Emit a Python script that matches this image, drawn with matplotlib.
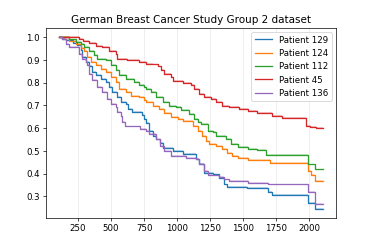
import matplotlib
matplotlib.use("Agg")
import matplotlib.pyplot as plt

# survival step curves: change times and value after each time
t_129 = [107, 130, 157, 208, 245, 270, 283, 308, 333, 358, 383, 421, 459, 484, 509, 547,
         572, 609, 627, 659, 735, 747, 765, 790, 815, 840, 866, 891, 966, 1041, 1141, 1166,
         1204, 1267, 1317, 1355, 1380, 1525, 1688, 1714, 1989, 2040, 2100]
s_129 = [1.0, 0.994, 0.987, 0.975, 0.965, 0.942, 0.913, 0.89, 0.872, 0.846, 0.832, 0.817,
         0.802, 0.78, 0.758, 0.736, 0.714, 0.706, 0.684, 0.669, 0.659, 0.64, 0.624, 0.587,
         0.566, 0.55, 0.536, 0.514, 0.5, 0.485, 0.463, 0.441, 0.404, 0.396, 0.382, 0.352,
         0.341, 0.335, 0.32, 0.306, 0.271, 0.246, 0.246]

t_124 = [107, 182, 233, 270, 295, 321, 346, 383, 421, 459, 496, 534, 559, 609, 647, 709,
         747, 765, 815, 865, 903, 953, 1003, 1041, 1116, 1154, 1191, 1216, 1242, 1292, 1342,
         1380, 1417, 1462, 1538, 1701, 1989, 2010, 2045, 2100]
s_124 = [1.0, 0.984, 0.972, 0.954, 0.94, 0.913, 0.89, 0.876, 0.861, 0.846, 0.824, 0.802,
         0.773, 0.758, 0.743, 0.736, 0.724, 0.714, 0.699, 0.684, 0.665, 0.65, 0.64, 0.63,
         0.611, 0.588, 0.566, 0.544, 0.532, 0.522, 0.507, 0.492, 0.478, 0.467, 0.458, 0.445,
         0.41, 0.395, 0.367, 0.367]

t_112 = [107, 182, 233, 270, 295, 333, 371, 396, 459, 496, 534, 559, 609, 672, 709, 747,
         765, 803, 840, 890, 940, 991, 1029, 1091, 1129, 1154, 1179, 1229, 1267, 1292, 1367,
         1405, 1462, 1538, 1601, 1670, 1989, 2040, 2100]
s_112 = [1.0, 0.99, 0.98, 0.97, 0.957, 0.94, 0.92, 0.905, 0.898, 0.876, 0.857, 0.832,
         0.817, 0.802, 0.788, 0.78, 0.773, 0.758, 0.736, 0.714, 0.699, 0.692, 0.68, 0.662,
         0.64, 0.625, 0.618, 0.588, 0.581, 0.566, 0.551, 0.532, 0.515, 0.507, 0.503, 0.482,
         0.44, 0.418, 0.418]

t_45 = [107, 258, 290, 333, 383, 434, 484, 534, 547, 622, 709, 760, 815, 852, 878, 903,
        953, 965, 1041, 1104, 1129, 1166, 1204, 1254, 1292, 1342, 1392, 1468, 1538, 1601,
        1714, 1789, 1977, 2002, 2052, 2100]
s_45 = [1.0, 0.993, 0.984, 0.975, 0.963, 0.957, 0.941, 0.927, 0.903, 0.898, 0.89, 0.883,
        0.88, 0.871, 0.854, 0.839, 0.824, 0.807, 0.798, 0.788, 0.773, 0.75, 0.736, 0.728,
        0.714, 0.699, 0.692, 0.684, 0.676, 0.665, 0.655, 0.646, 0.611, 0.603, 0.6, 0.6]

t_136 = [107, 130, 157, 182, 258, 283, 308, 321, 333, 358, 396, 434, 471, 496, 534, 547,
         572, 584, 602, 715, 765, 790, 840, 866, 903, 953, 1066, 1141, 1166, 1204, 1229,
         1317, 1355, 1392, 1538, 1688, 1989, 2045, 2100]
s_136 = [1.0, 0.994, 0.972, 0.955, 0.927, 0.905, 0.89, 0.876, 0.839, 0.81, 0.78, 0.758,
         0.728, 0.706, 0.692, 0.669, 0.655, 0.625, 0.607, 0.596, 0.587, 0.573, 0.55, 0.521,
         0.499, 0.477, 0.467, 0.463, 0.441, 0.411, 0.394, 0.385, 0.374, 0.367, 0.36, 0.352,
         0.32, 0.267, 0.267]

labels = ["Patient 129", "Patient 124", "Patient 112", "Patient 45", "Patient 136"]
times = [t_129, t_124, t_112, t_45, t_136]
surv = [s_129, s_124, s_112, s_45, s_136]
colors = ["#1f77b4", "#ff7f0e", "#2ca02c", "#d62728", "#9467bd"]

fig, ax = plt.subplots(figsize=(6, 4))
fig.subplots_adjust(left=0.123, right=0.898, bottom=0.124, top=0.888)

for t, s, c, lab in zip(times, surv, colors, labels):
    lo = [v - 0.004 for v in s]
    hi = [v + 0.004 for v in s]
    ax.fill_between(t, lo, hi, step="post", color=c, alpha=0.25, lw=0)
    ax.step(t, s, where="post", color=c, label=lab)

ax.set_xticks([250, 500, 750, 1000, 1250, 1500, 1750, 2000])
ax.grid(axis="x", alpha=0.3)
ax.set_title("German Breast Cancer Study Group 2 dataset")
ax.legend(loc="upper right")

fig.savefig("out.png", dpi=374 / 6)
